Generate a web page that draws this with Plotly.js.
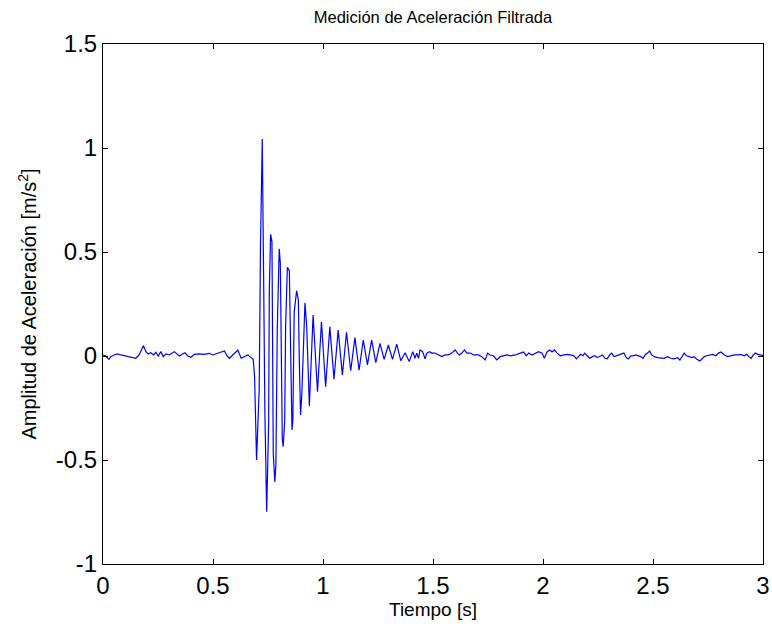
<!DOCTYPE html>
<html>
<head>
<meta charset="utf-8">
<script src="https://cdn.plot.ly/plotly-3.0.1.min.js"></script>
<style>html,body{margin:0;padding:0;background:#fff;}#chart{width:772px;height:628px;}</style>
</head>
<body>
<div id="chart"></div>
<script>
// Pre-event noise (time in s, acceleration in m/s^2)
const preTime = [0.000,0.012,0.027,0.035,0.050,0.065,0.081,0.103,0.126,0.149,0.164,0.184,0.195,0.205,0.217,0.230,0.240,0.251,0.263,0.274,0.286,0.301,0.324,0.336,0.347,0.362,0.372,0.385,0.400,0.415,0.438,0.460,0.483,0.499,0.514,0.537,0.552,0.564,0.575,0.590,0.605,0.613,0.628,0.643,0.658,0.668];
const preAccel = [0.005,0.000,-0.016,-0.003,0.005,0.010,0.005,0.000,-0.003,-0.011,0.005,0.050,0.021,0.010,0.016,0.005,0.018,0.000,0.021,-0.003,0.010,0.005,0.021,0.010,0.000,0.010,0.016,0.000,-0.006,0.008,0.010,0.008,0.013,0.005,0.010,0.016,0.024,0.000,-0.011,0.005,0.021,0.029,-0.011,-0.003,0.005,-0.003];

// Impact response
const burstTime = [0.683,0.689,0.695,0.698,0.710,0.716,0.724,0.728,0.731,0.736,0.744,0.753,0.756,0.762,0.768,0.771,0.774,0.781,0.786,0.792,0.797,0.801,0.806,0.809,0.815,0.819,0.826,0.830,0.838,0.847,0.850,0.854,0.859,0.863,0.869,0.880,0.888,0.892,0.898,0.904,0.910,0.918,0.926,0.933,0.938,0.955,0.975,0.993,1.012,1.031,1.050,1.069,1.088,1.107,1.126,1.145,1.164,1.183,1.202,1.221,1.240,1.259,1.278,1.297,1.316,1.335,1.354,1.373,1.392];
const burstAccel = [-0.016,-0.100,-0.320,-0.500,-0.160,0.540,1.043,0.610,0.530,-0.280,-0.749,-0.320,0.320,0.585,0.550,0.125,-0.470,-0.605,-0.520,0.125,0.410,0.515,0.446,0.013,-0.400,-0.436,-0.310,0.140,0.427,0.410,0.170,-0.180,-0.356,-0.310,0.210,0.313,0.270,-0.003,-0.284,-0.180,0.045,0.256,0.140,-0.115,-0.240,0.197,-0.172,0.165,-0.148,0.141,-0.112,0.125,-0.092,0.114,-0.071,0.088,-0.068,0.077,-0.043,0.077,-0.032,0.061,-0.016,0.053,-0.016,0.057,-0.023,0.016,-0.027];

// Post-event noise
const postTime = [1.408,1.418,1.426,1.434,1.441,1.453,1.464,1.472,1.484,1.494,1.509,1.525,1.540,1.555,1.570,1.585,1.601,1.611,1.620,1.631,1.643,1.654,1.669,1.684,1.707,1.722,1.737,1.748,1.760,1.775,1.790,1.806,1.821,1.836,1.852,1.874,1.897,1.912,1.924,1.935,1.950,1.965,1.980,1.996,2.006,2.019,2.031,2.041,2.052,2.064,2.079,2.095,2.110,2.125,2.140,2.152,2.163,2.171,2.181,2.190,2.201,2.212,2.224,2.236,2.247,2.257,2.270,2.282,2.292,2.303,2.312,2.323,2.333,2.345,2.358,2.368,2.379,2.388,2.399,2.409,2.421,2.434,2.444,2.455,2.464,2.475,2.485,2.494,2.505,2.520,2.535,2.551,2.566,2.581,2.596,2.612,2.622,2.631,2.642,2.652,2.665,2.677,2.687,2.698,2.713,2.722,2.733,2.744,2.756,2.771,2.786,2.798,2.809,2.824,2.839,2.854,2.870,2.885,2.900,2.915,2.926,2.935,2.946,2.956,2.965,2.976,2.986,3.000];
const postAccel = [0.021,-0.011,0.014,-0.011,0.029,0.021,-0.014,0.014,0.021,0.014,0.014,0.005,-0.003,0.005,0.005,0.014,0.029,0.014,0.005,0.014,0.029,0.014,0.014,0.005,0.005,-0.003,-0.019,0.014,0.005,0.001,-0.019,-0.003,0.001,0.005,0.001,0.005,0.014,0.019,0.001,0.014,0.005,0.014,0.021,0.014,-0.011,0.021,0.029,0.019,0.029,0.014,0.001,0.005,0.008,0.005,0.001,-0.014,0.001,0.008,0.001,0.014,0.001,-0.011,-0.003,0.001,-0.008,-0.003,0.005,-0.011,-0.014,0.005,0.014,-0.003,0.001,0.005,0.008,0.014,-0.008,-0.014,0.001,0.001,0.005,0.001,-0.003,-0.011,0.005,0.014,0.024,0.005,-0.003,-0.008,-0.008,-0.011,-0.003,-0.011,-0.014,-0.008,-0.019,-0.003,0.014,0.001,-0.003,-0.008,-0.003,-0.014,-0.024,-0.014,-0.003,0.001,0.005,0.008,0.001,0.014,0.019,0.005,-0.003,0.001,0.005,0.005,0.008,0.001,0.008,-0.003,-0.011,0.005,0.014,0.008,0.005,0.003];

const xTickVals = [0, 0.5, 1, 1.5, 2, 2.5, 3];
const xTickText = ['0', '0.5', '1', '1.5', '2', '2.5', '3'];
const yTickVals = [-1, -0.5, 0, 0.5, 1, 1.5];
const yTickText = ['-1', '-0.5', '0', '0.5', '1', '1.5'];

const timeSec = preTime.concat(burstTime, postTime);
const accel = preAccel.concat(burstAccel, postAccel);

const fontFam = 'Liberation Sans, Arial, Helvetica, sans-serif';

const trace = {
  x: timeSec, y: accel, type: 'scatter', mode: 'lines',
  line: {color: '#0000ff', width: 1.2}, hoverinfo: 'skip'
};

const layout = {
  width: 772, height: 628,
  paper_bgcolor: '#ffffff', plot_bgcolor: '#ffffff',
  margin: {l: 103, r: 9, t: 44, b: 64, pad: 0},
  showlegend: false,
  font: {family: fontFam, color: '#000000'},
  title: {
    text: 'Medición de Aceleración Filtrada',
    font: {family: fontFam, size: 16.5, color: '#000000'},
    x: 0.5, xref: 'paper', y: 0.972, yref: 'container', yanchor: 'middle'
  },
  xaxis: {
    range: [0, 3], tickvals: xTickVals, ticktext: xTickText,
    ticks: 'inside', ticklen: 5, tickcolor: '#000', tickwidth: 1,
    showline: true, linecolor: '#000', linewidth: 1, mirror: 'ticks',
    showgrid: false, zeroline: false,
    tickfont: {family: fontFam, size: 24, color: '#000'},
    automargin: false,
    title: {text: 'Tiempo [s]', font: {family: fontFam, size: 19, color: '#000'}, standoff: 2}
  },
  yaxis: {
    range: [-1, 1.5], tickvals: yTickVals, ticktext: yTickText,
    ticks: 'inside', ticklen: 5, tickcolor: '#000', tickwidth: 1,
    showline: true, linecolor: '#000', linewidth: 1, mirror: 'ticks',
    showgrid: false, zeroline: false,
    tickfont: {family: fontFam, size: 24, color: '#000'},
    automargin: false,
    title: {text: 'Amplitud de Aceleración [m/s<sup>2</sup>]', font: {family: fontFam, size: 20, color: '#000'}, standoff: 13}
  }
};

Plotly.newPlot('chart', [trace], layout, {staticPlot: true, displayModeBar: false});
</script>
</body>
</html>
